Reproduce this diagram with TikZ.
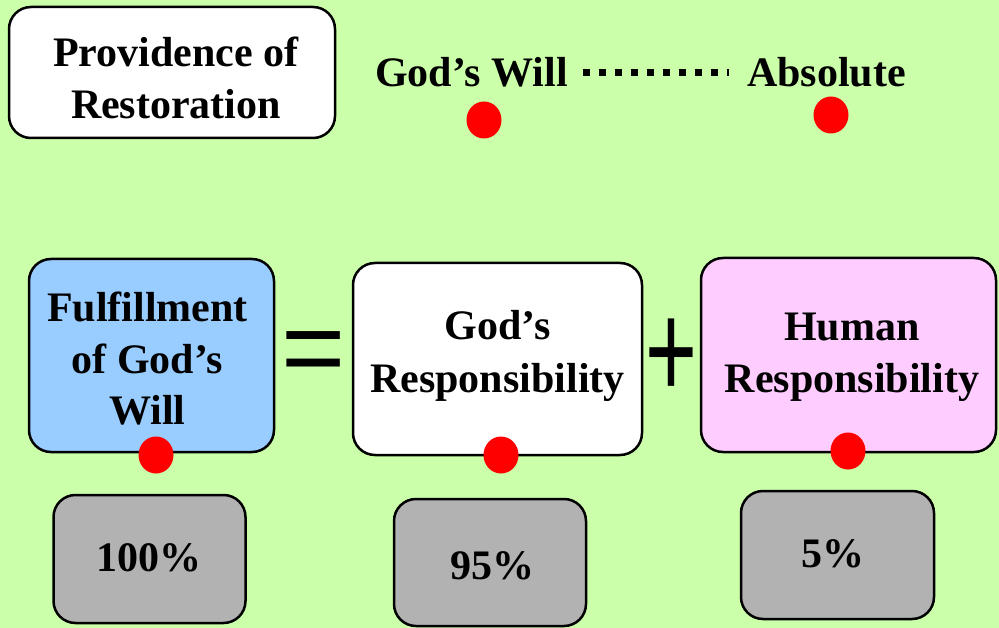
\documentclass[tikz,border=0pt]{standalone}
\usepackage{fontspec}
\usetikzlibrary{shapes.geometric}
\setmainfont{Liberation Serif}
\newfontfamily\symfont{Liberation Sans}
\definecolor{bg}{HTML}{CCFFAA}
\definecolor{bluebox}{HTML}{99CCFF}
\definecolor{pinkbox}{HTML}{FFCCFF}
\definecolor{graybox}{HTML}{B2B2B2}
\definecolor{dotred}{HTML}{FF0000}
\begin{document}
\begin{tikzpicture}[x=1pt,y=-1pt,
  box/.style={draw=black, line width=2.5pt, rounded corners=22pt, inner sep=0pt},
  txt/.style={font=\fontsize{42}{#1}\selectfont\bfseries, align=center, inner sep=0pt},
  txt/.default=52,
  reddot/.style={ellipse, fill=dotred, minimum width=35pt, minimum height=37pt, inner sep=0pt},
  dotline/.style={line width=7pt, dash pattern=on 7pt off 9pt}
]
\fill[bg] (0,0) rectangle (999,628);
\useasboundingbox (0,0) rectangle (999,628);

% top
\node[box, fill=white, minimum width=326pt, minimum height=131pt] (prov) at (172,72.5) {};
\node[txt=52] (provt) at (176,77.8) {Providence of\\Restoration};

\node[txt, anchor=base] (gw) at (471.5,87) {God’s Will};
\node[txt, anchor=base] (abs) at (826.5,87) {Absolute};
\coordinate (d1) at (583,72.5);
\coordinate (d2) at (729,72.5);
\draw[dotline] (d1) -- (d2);

\node[reddot] (r1) at (484,120) {};
\node[reddot] (r2) at (831,115) {};

% middle boxes
\node[box, fill=bluebox, minimum width=245pt, minimum height=193pt] (ful) at (151.5,355.5) {};
\node[txt=51.5] (fult) at (147.5,359) {Fulfillment\\of God’s\\Will};

\node[box, fill=white, minimum width=289pt, minimum height=192pt] (godr) at (497.5,359) {};
\node[txt=53] (godrt) at (497.5,355.5) {God’s\\Responsibility};

\node[box, fill=pinkbox, minimum width=295pt, minimum height=194pt] (hum) at (848.5,355) {};
\node[txt=52] (humt) at (852,357.3) {Human\\Responsibility};

\node[font=\symfont\fontsize{110}{110}\selectfont, inner sep=0pt, anchor=base] (eq) at (314,385) {=};
\node[font=\symfont\fontsize{89}{89}\selectfont, inner sep=0pt, anchor=base] (plus) at (671,398.5) {\scalebox{1}[1.55]{+}};

\node[reddot] (r3) at (156,455) {};
\node[reddot] (r4) at (501,455) {};
\node[reddot] (r5) at (848,451) {};

% gray boxes
\node[box, fill=graybox, minimum width=192pt, minimum height=128pt] (g1) at (149.5,559) {};
\node[txt, anchor=base] (g1t) at (149,571) {100\%};
\node[box, fill=graybox, minimum width=192pt, minimum height=127pt] (g2) at (490,562.5) {};
\node[txt, anchor=base] (g2t) at (492.5,579) {95\%};
\node[box, fill=graybox, minimum width=193pt, minimum height=128pt] (g3) at (837.5,555) {};
\node[txt, anchor=base] (g3t) at (833,567) {5\%};
\end{tikzpicture}
\end{document}
